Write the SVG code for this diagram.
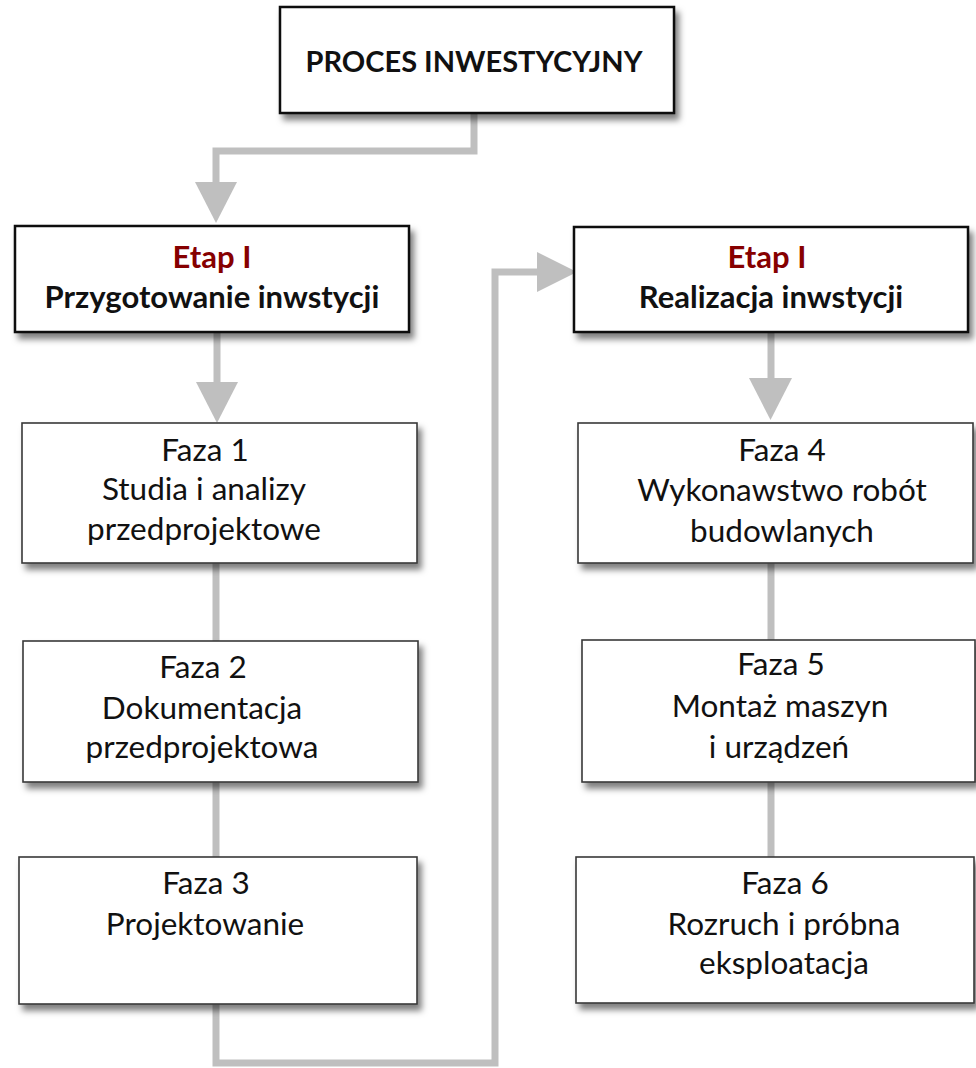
<svg xmlns="http://www.w3.org/2000/svg" width="976" height="1068" viewBox="0 0 976 1068">
<defs>
<filter id="sh" x="-10%" y="-10%" width="130%" height="140%">
<feDropShadow dx="4" dy="6" stdDeviation="3" flood-color="#000" flood-opacity="0.5"/>
</filter>
<style>
.bx{fill:#fff;stroke:#111;stroke-width:2.5;filter:url(#sh)}
.fz{fill:#fff;stroke:#3a3a3a;stroke-width:1.6;filter:url(#sh)}
.t{font-family:Lato,"Liberation Sans",sans-serif;font-size:31.5px;fill:#111;text-anchor:middle}
.b{font-weight:bold;font-size:31px}
.p{font-size:29px}
.r{fill:#860000}
.ln{fill:none;stroke:#bfbfbf;stroke-width:7}
.ah{fill:#bfbfbf}
</style>
</defs>
<g id="connectors">
<polyline class="ln" points="474,113 474,151 216,151 216,184"/>
<polygon class="ah" points="195,182 237,182 216,223"/>
<line class="ln" x1="217" y1="332" x2="217" y2="384"/>
<polygon class="ah" points="196,382 238,382 217,423"/>
<line class="ln" x1="216" y1="563" x2="216" y2="641"/>
<line class="ln" x1="216" y1="782" x2="216" y2="857"/>
<polyline class="ln" points="216,1004 216,1063 495,1063 495,272 539,272"/>
<polygon class="ah" points="537,252 537,292 577,272"/>
<line class="ln" x1="771" y1="332" x2="771" y2="380"/>
<polygon class="ah" points="749,378 792,378 770.5,420"/>
<line class="ln" x1="771" y1="563" x2="771" y2="640"/>
<line class="ln" x1="771" y1="782" x2="771" y2="857"/>
</g>
<g id="proces">
<rect class="bx" x="280" y="7" width="394" height="106"/>
<text class="t b p" x="474" y="72">PROCES INWESTYCYJNY</text>
</g>
<g id="etap1">
<rect class="bx" x="15" y="226" width="394" height="106"/>
<text class="t b r" x="212" y="268">Etap I</text>
<text class="t b" x="212" y="308">Przygotowanie inwstycji</text>
</g>
<g id="etap2">
<rect class="bx" x="574" y="227" width="394" height="105"/>
<text class="t b r" x="767" y="268">Etap I</text>
<text class="t b" x="771" y="308">Realizacja inwstycji</text>
</g>
<g id="faza1">
<rect class="fz" x="22" y="423" width="395" height="140"/>
<text class="t" x="205" y="461">Faza 1</text>
<text class="t" x="204" y="500">Studia i analizy</text>
<text class="t" x="204" y="540">przedprojektowe</text>
</g>
<g id="faza2">
<rect class="fz" x="23" y="641" width="395" height="141"/>
<text class="t" x="203" y="678">Faza 2</text>
<text class="t" x="202" y="719">Dokumentacja</text>
<text class="t" x="202" y="758">przedprojektowa</text>
</g>
<g id="faza3">
<rect class="fz" x="19" y="857" width="398" height="147"/>
<text class="t" x="206" y="894">Faza 3</text>
<text class="t" x="205" y="935">Projektowanie</text>
</g>
<g id="faza4">
<rect class="fz" x="578" y="423" width="395" height="140"/>
<text class="t" x="782" y="461">Faza 4</text>
<text class="t" x="782" y="501">Wykonawstwo robót</text>
<text class="t" x="782" y="542">budowlanych</text>
</g>
<g id="faza5">
<rect class="fz" x="582" y="640" width="393" height="142"/>
<text class="t" x="781" y="675">Faza 5</text>
<text class="t" x="780" y="717">Montaż maszyn</text>
<text class="t" x="779" y="758">i urządzeń</text>
</g>
<g id="faza6">
<rect class="fz" x="576" y="857" width="398" height="146"/>
<text class="t" x="785" y="894">Faza 6</text>
<text class="t" x="784" y="935">Rozruch i próbna</text>
<text class="t" x="784" y="974">eksploatacja</text>
</g>
</svg>
